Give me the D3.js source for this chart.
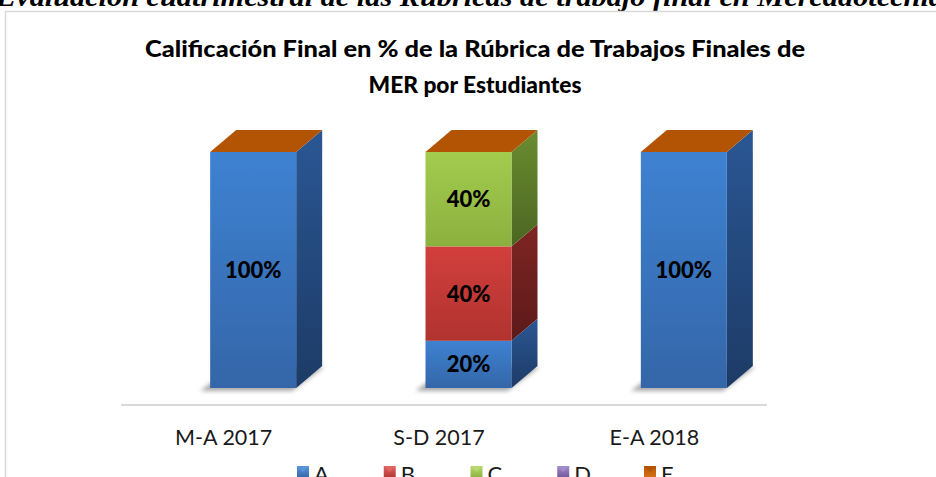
<!DOCTYPE html>
<html>
<head>
<meta charset="utf-8">
<script src="https://cdn.jsdelivr.net/npm/d3@7"></script>
<style>
  html, body { margin: 0; padding: 0; background: #fff; overflow: hidden; }
  svg { display: block; }
</style>
</head>
<body>
<svg id="chart" width="936" height="477"></svg>
<script>
// ---- data ----
const categories = ["M-A 2017", "S-D 2017", "E-A 2018"];
const seriesNames = ["A", "B", "C", "D", "E"];
const valuesA = [100, 20, 100];
const valuesB = [0, 40, 0];
const valuesC = [0, 40, 0];
const valuesD = [0, 0, 0];
const valuesE = [0, 0, 0];
const headerText = "Evaluación cuatrimestral de las Rúbricas de trabajo final en Mercadotecnia";
const titleLines = ["Calificación Final en % de la Rúbrica de Trabajos Finales de", "MER por Estudiantes"];

const seriesValues = [valuesA, valuesB, valuesC, valuesD, valuesE];
const colors = {
  A: { front: ["#3e82d2", "#3466a8"], side: ["#2a5794", "#1d3b66"], top: "#5a95dc" },
  B: { front: ["#d23f3c", "#b03330"], side: ["#7e2523", "#5c1a19"], top: "#e06663" },
  C: { front: ["#a3cc4e", "#8cb03e"], side: ["#6a8c30", "#4c6622"], top: "#b7d870" },
  D: { front: ["#8a6bb5", "#6e5497"], side: ["#4f3d6d", "#3a2c52"], top: "#a38ccb" },
  E: { front: ["#f08a2a", "#d8721a"], side: ["#a0520f", "#7a3e0b"], top: "#b35404" }
};

const svg = d3.select("#chart");
const defs = svg.append("defs");

seriesNames.forEach(s => {
  const g1 = defs.append("linearGradient").attr("id", "front-" + s)
    .attr("x1", 0).attr("y1", 0).attr("x2", 0).attr("y2", 1);
  g1.append("stop").attr("offset", "0%").attr("stop-color", colors[s].front[0]);
  g1.append("stop").attr("offset", "100%").attr("stop-color", colors[s].front[1]);
  const g2 = defs.append("linearGradient").attr("id", "side-" + s)
    .attr("x1", 0).attr("y1", 0).attr("x2", 0).attr("y2", 1);
  g2.append("stop").attr("offset", "0%").attr("stop-color", colors[s].side[0]);
  g2.append("stop").attr("offset", "100%").attr("stop-color", colors[s].side[1]);
  const g3 = defs.append("linearGradient").attr("id", "leg-" + s)
    .attr("x1", 0).attr("y1", 0).attr("x2", 0).attr("y2", 1);
  g3.append("stop").attr("offset", "0%").attr("stop-color", colors[s].top);
  g3.append("stop").attr("offset", "100%").attr("stop-color", colors[s].front[1]);
});
const blur = defs.append("filter").attr("id", "shadow")
  .attr("x", "-30%").attr("y", "-100%").attr("width", "160%").attr("height", "300%");
blur.append("feGaussianBlur").attr("stdDeviation", 2.2);

// ---- header (cut off at top) ----
svg.append("text")
  .attr("x", -4).attr("y", 6)
  .attr("font-family", "Liberation Serif, serif")
  .attr("font-weight", "bold").attr("font-style", "italic")
  .attr("font-size", 27)
  .attr("textLength", 948).attr("lengthAdjust", "spacingAndGlyphs")
  .attr("fill", "#000")
  .text(headerText);

// ---- chart frame ----
svg.append("rect")
  .attr("x", 5.5).attr("y", 11.5).attr("width", 960).attr("height", 500)
  .attr("fill", "#fff").attr("stroke", "#d9d9d9").attr("stroke-width", 1.5);

// ---- title ----
const titleWidths = [660, 213];
svg.append("g").selectAll("text").data(titleLines).join("text")
  .attr("x", 475).attr("y", (d, i) => 57 + i * 36)
  .attr("text-anchor", "middle")
  .attr("font-family", "Lato, 'Open Sans', sans-serif")
  .attr("font-weight", "900").attr("font-size", 23.5)
  .attr("textLength", (d, i) => titleWidths[i]).attr("lengthAdjust", "spacingAndGlyphs")
  .attr("fill", "#000")
  .text(d => d);

// ---- scales ----
const x = d3.scaleBand().domain(categories).range([116, 762]).padding(0);
const y = d3.scaleLinear().domain([0, 100]).range([388, 152]);
const barW = 86;
const barShift = 29.5;      // front face offset vs. floor band center
const depthX = 26, depthY = 22;

// floor line
svg.append("line")
  .attr("x1", x.range()[0] + 5).attr("x2", x.range()[1] + 5)
  .attr("y1", 405).attr("y2", 405)
  .attr("stroke", "#d9d9d9").attr("stroke-width", 2);

// category axis
const xAxis = d3.axisBottom(x).tickSize(0).tickPadding(0);
const axG = svg.append("g").attr("transform", "translate(0,445)").call(xAxis);
axG.select(".domain").remove();
axG.selectAll("text")
  .attr("dy", 0).attr("y", 0)
  .attr("font-family", "Lato, 'Open Sans', sans-serif")
  .attr("font-size", 21.5).attr("fill", "#1a1a1a");

// stacked data
const stackData = categories.map((c, i) => {
  const o = { cat: c };
  seriesNames.forEach((s, j) => o[s] = seriesValues[j][i]);
  return o;
});
const stacked = d3.stack().keys(seriesNames)(stackData);

const bars = svg.append("g");
const frontLeft = c => x(c) + x.bandwidth() / 2 + barShift - barW / 2;

// soft floor shadows (bar footprint shifted left/down)
bars.selectAll("path.sh").data(categories).join("path")
  .attr("class", "sh")
  .attr("d", c => {
    const l = frontLeft(c) - 10, b = y(0) + 3;
    return `M${l},${b} L${l + barW + 6},${b} L${l + barW + depthX + 12},${b - depthY - 2} L${l + depthX + 6},${b - depthY - 2} Z`;
  })
  .attr("fill", "#6f6f6f").attr("opacity", 0.6).attr("filter", "url(#shadow)");

stacked.forEach(layer => {
  const s = layer.key;
  layer.forEach((seg, i) => {
    const v = seg[1] - seg[0];
    if (v <= 0) return;
    const c = categories[i];
    const l = frontLeft(c);
    const yt = y(seg[1]), yb = y(seg[0]);
    // side face
    bars.append("path")
      .attr("d", `M${l + barW},${yt} L${l + barW + depthX},${yt - depthY} L${l + barW + depthX},${yb - depthY} L${l + barW},${yb} Z`)
      .attr("fill", `url(#side-${s})`);
    // front face
    bars.append("rect")
      .attr("x", l).attr("y", yt).attr("width", barW).attr("height", yb - yt)
      .attr("fill", `url(#front-${s})`);
    // value label
    bars.append("text")
      .attr("x", l + barW / 2).attr("y", (yt + yb) / 2 + 8)
      .attr("text-anchor", "middle")
      .attr("font-family", "Lato, 'Open Sans', sans-serif")
      .attr("font-weight", "900").attr("font-size", 22)
      .attr("fill", "#000")
      .text(v + "%");
  });
});

// top caps (the last series, E, sits at the top of every stack)
const topLayer = stacked[stacked.length - 1];
bars.selectAll("path.top").data(topLayer).join("path")
  .attr("class", "top")
  .attr("d", (seg, i) => {
    const l = frontLeft(categories[i]);
    const yt = y(seg[1]);
    return `M${l},${yt} L${l + depthX},${yt - depthY} L${l + barW + depthX},${yt - depthY} L${l + barW},${yt} Z`;
  })
  .attr("fill", colors[topLayer.key].top);

// ---- legend ----
const legX = d3.scalePoint().domain(seriesNames).range([297, 644]);
const leg = svg.append("g").selectAll("g").data(seriesNames).join("g")
  .attr("transform", d => `translate(${legX(d)},466)`);
leg.append("rect").attr("width", 12).attr("height", 12)
  .attr("fill", d => `url(#leg-${d})`);
leg.append("path").attr("d", "M0,0 L12,0 L6,6 Z")
  .attr("fill", d => colors[d].top).attr("opacity", 0.9);
leg.append("text")
  .attr("x", 17).attr("y", 16)
  .attr("font-family", "Lato, 'Open Sans', sans-serif")
  .attr("font-size", 22).attr("fill", "#1a1a1a")
  .text(d => d);
</script>
</body>
</html>
